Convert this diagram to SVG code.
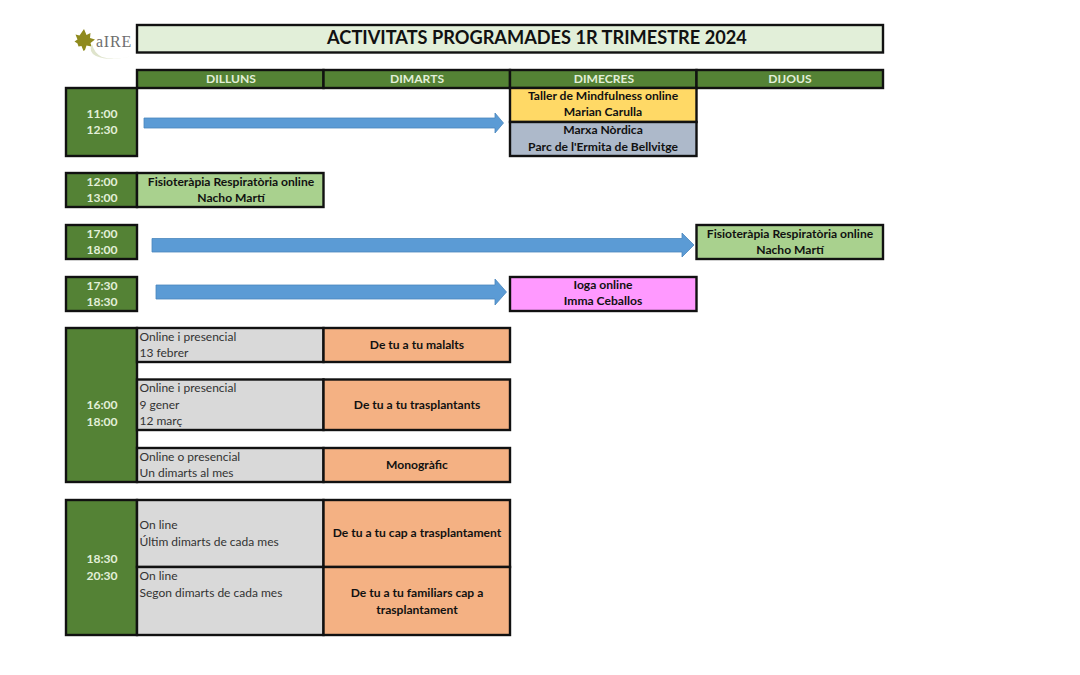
<svg xmlns="http://www.w3.org/2000/svg" width="1080" height="675" viewBox="0 0 1080 675">
<style>
text{font-family:"Lato","Open Sans","Liberation Sans",sans-serif;font-size:12.1px;text-anchor:middle;fill:#111;font-weight:700}
rect{stroke:#111;stroke-width:2.4}
.g{fill:#548235}.lg{fill:#a9d18e}.gr{fill:#d9d9d9}.o{fill:#f4b183}
.w{fill:#e2efd9}
.h{fill:#e2efd9}
.l{text-anchor:start;font-weight:400;fill:#333;font-size:12px}
.a{fill:#5b9bd5;stroke:#4a86bd;stroke-width:.8}
</style>
<g id="logo">
<path d="M84 29l2.500 6 4-2-.5 5 5 1.500-4.500 3.500 1 3.500-5-1-1.500 4.500-1.500 1-2-5-3 .5-1-3-3-2 3-2-2-5 4 1z" fill="#8f8a1e"/>
<path d="M92 44q-4 8 4 12q14 6 36 0q-18 5-30 1q-8-4-10-13z" fill="#dfe4cc"/>
<text x="114" y="47" style="font-family:'Liberation Serif',serif;font-size:16px;font-weight:400;fill:#6e6e6e;letter-spacing:.8px">aIRE</text>
</g>
<g id="title"><rect class="w" x="137" y="25" width="746" height="27.500"/><text x="537" y="44" style="font-size:18.200px">ACTIVITATS PROGRAMADES 1R TRIMESTRE 2024</text></g>
<g id="headers">
<rect class="g" x="137" y="70" width="186.500" height="18"/><text class="h" x="231" y="83">DILLUNS</text>
<rect class="g" x="323.500" y="70" width="186.500" height="18"/><text class="h" x="417" y="83">DIMARTS</text>
<rect class="g" x="510" y="70" width="186.500" height="18"/><text class="h" x="604" y="83">DIMECRES</text>
<rect class="g" x="696.500" y="70" width="186.500" height="18"/><text class="h" x="790" y="83">DIJOUS</text>
</g>
<g id="time-1100"><rect class="g" x="66" y="88" width="71" height="68"/><text class="h" x="102" y="118">11:00</text><text class="h" x="102" y="134">12:30</text></g>
<g id="taller"><rect x="510" y="88" width="186.500" height="34" fill="#ffd966"/><text x="603" y="100">Taller de Mindfulness online</text><text x="603" y="116">Marian Carulla</text></g>
<g id="marxa"><rect x="510" y="122" width="186.500" height="34" fill="#adb9ca"/><text x="603" y="134">Marxa Nòrdica</text><text x="603" y="151">Parc de l'Ermita de Bellvitge</text></g>
<g id="time-1200"><rect class="g" x="66" y="173" width="71" height="34"/><text class="h" x="102" y="186">12:00</text><text class="h" x="102" y="202">13:00</text></g>
<g id="fisio-1"><rect class="lg" x="137" y="173" width="186.500" height="34"/><text x="231" y="186">Fisioteràpia Respiratòria online</text><text x="231" y="202">Nacho Martí</text></g>
<g id="time-1700"><rect class="g" x="66" y="225" width="71" height="34"/><text class="h" x="102" y="238">17:00</text><text class="h" x="102" y="254">18:00</text></g>
<g id="fisio-2"><rect class="lg" x="696.500" y="225" width="186.500" height="34"/><text x="790" y="238">Fisioteràpia Respiratòria online</text><text x="790" y="254">Nacho Martí</text></g>
<g id="time-1730"><rect class="g" x="66" y="277" width="71" height="34"/><text class="h" x="102" y="290">17:30</text><text class="h" x="102" y="306">18:30</text></g>
<g id="ioga"><rect x="510" y="277" width="186.500" height="34" fill="#ff99ff"/><text x="603" y="289">Ioga online</text><text x="603" y="305">Imma Ceballos</text></g>
<g id="time-1600"><rect class="g" x="66" y="328" width="71" height="154"/><text class="h" x="102" y="409">16:00</text><text class="h" x="102" y="426">18:00</text></g>
<g id="row-malalts"><rect class="gr" x="137" y="328" width="186.500" height="34"/><text class="l" x="139.500" y="341">Online i presencial</text><text class="l" x="139.500" y="357">13 febrer</text><rect class="o" x="323.500" y="328" width="186.500" height="34"/><text x="417" y="349">De tu a tu malalts</text></g>
<g id="row-trasplantants"><rect class="gr" x="137" y="379.500" width="186.500" height="50.500"/><text class="l" x="139.500" y="392">Online i presencial</text><text class="l" x="139.500" y="409">9 gener</text><text class="l" x="139.500" y="425">12 març</text><rect class="o" x="323.500" y="379.500" width="186.500" height="50.500"/><text x="417" y="409">De tu a tu trasplantants</text></g>
<g id="row-monografic"><rect class="gr" x="137" y="448" width="186.500" height="34"/><text class="l" x="139.500" y="461">Online o presencial</text><text class="l" x="139.500" y="477">Un dimarts al mes</text><rect class="o" x="323.500" y="448" width="186.500" height="34"/><text x="417" y="469">Monogràfic</text></g>
<g id="time-1830"><rect class="g" x="66" y="500" width="71" height="135"/><text class="h" x="102" y="563">18:30</text><text class="h" x="102" y="580">20:30</text></g>
<g id="row-cap"><rect class="gr" x="137" y="500" width="186.500" height="67"/><text class="l" x="139.500" y="529">On line</text><text class="l" x="139.500" y="546">Últim dimarts de cada mes</text><rect class="o" x="323.500" y="500" width="186.500" height="67"/><text x="417" y="537">De tu a tu cap a trasplantament</text></g>
<g id="row-familiars"><rect class="gr" x="137" y="567" width="186.500" height="68"/><text class="l" x="139.500" y="580">On line</text><text class="l" x="139.500" y="597">Segon dimarts de cada mes</text><rect class="o" x="323.500" y="567" width="186.500" height="68"/><text x="417" y="597">De tu a tu familiars cap a</text><text x="417" y="614">trasplantament</text></g>
<g id="connectors">
<path class="a" d="M144 118H495V113L503.500 123L495 133V128H144Z"/>
<path class="a" d="M152 238.500H682V233L694 245L682 257V252H152Z"/>
<path class="a" d="M156 285H495V279L506.500 292L495 305V299H156Z"/>
</g>
</svg>
